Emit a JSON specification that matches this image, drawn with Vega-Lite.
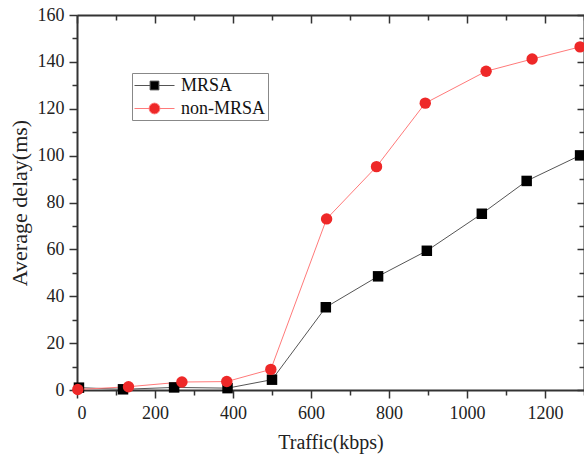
{
  "$schema": "https://vega.github.io/schema/vega-lite/v6.json",
  "width": 507,
  "height": 375,
  "padding": {"left": 77, "top": 15, "right": 0, "bottom": 67},
  "autosize": {"type": "none"},
  "background": "white",
  "config": {
    "view": {"stroke": null},
    "font": "Liberation Serif",
    "axis": {
      "labelFont": "Liberation Serif",
      "labelFontSize": 18,
      "labelColor": "#222",
      "titleFont": "Liberation Serif",
      "titleFontWeight": "normal",
      "titleColor": "#222",
      "domainColor": "#333",
      "domainWidth": 2,
      "tickColor": "#333",
      "tickWidth": 1.5,
      "grid": false
    }
  },
  "data": {
    "values": [
      {"traffic": 5, "delay": 1.0, "series": "MRSA"},
      {"traffic": 118, "delay": 0.3, "series": "MRSA"},
      {"traffic": 249, "delay": 1.1, "series": "MRSA"},
      {"traffic": 386, "delay": 0.8, "series": "MRSA"},
      {"traffic": 500, "delay": 4.4, "series": "MRSA"},
      {"traffic": 638, "delay": 35.3, "series": "MRSA"},
      {"traffic": 772, "delay": 48.5, "series": "MRSA"},
      {"traffic": 897, "delay": 59.4, "series": "MRSA"},
      {"traffic": 1038, "delay": 75.2, "series": "MRSA"},
      {"traffic": 1153, "delay": 89.2, "series": "MRSA"},
      {"traffic": 1290, "delay": 100.1, "series": "MRSA"},
      {"traffic": 2, "delay": 0.2, "series": "non-MRSA"},
      {"traffic": 132, "delay": 1.4, "series": "non-MRSA"},
      {"traffic": 269, "delay": 3.4, "series": "non-MRSA"},
      {"traffic": 384, "delay": 3.6, "series": "non-MRSA"},
      {"traffic": 497, "delay": 8.8, "series": "non-MRSA"},
      {"traffic": 640, "delay": 73.0, "series": "non-MRSA"},
      {"traffic": 768, "delay": 95.3, "series": "non-MRSA"},
      {"traffic": 893, "delay": 122.4, "series": "non-MRSA"},
      {"traffic": 1049, "delay": 136.0, "series": "non-MRSA"},
      {"traffic": 1167, "delay": 141.2, "series": "non-MRSA"},
      {"traffic": 1290, "delay": 146.4, "series": "non-MRSA"}
    ]
  },
  "layer": [
    {
      "mark": {"type": "line", "strokeWidth": 1, "clip": false},
      "encoding": {
        "x": {
          "field": "traffic", "type": "quantitative",
          "scale": {"domain": [0, 1300], "nice": false, "zero": false},
          "axis": {
            "orient": "bottom",
            "title": "Traffic(kbps)",
            "titleFontSize": 20,
            "titlePadding": 10,
            "values": [0, 100, 200, 300, 400, 500, 600, 700, 800, 900, 1000, 1100, 1200, 1300],
            "labelExpr": "datum.value % 200 === 0 ? datum.label : ''",
            "format": "d",
            "labelPadding": 6,
            "tickSize": {"condition": {"test": "datum.value % 200 === 0", "value": 8}, "value": 5}
          }
        },
        "y": {
          "field": "delay", "type": "quantitative",
          "scale": {"domain": [0, 160], "nice": false},
          "axis": {
            "orient": "left",
            "title": "Average delay(ms)",
            "titleFontSize": 22,
            "titlePadding": 6,
            "values": [0, 10, 20, 30, 40, 50, 60, 70, 80, 90, 100, 110, 120, 130, 140, 150, 160],
            "labelExpr": "datum.value % 20 === 0 ? datum.label : ''",
            "labelPadding": 5,
            "tickSize": {"condition": {"test": "datum.value % 20 === 0", "value": 8}, "value": 5}
          }
        },
        "color": {
          "field": "series", "type": "nominal",
          "scale": {"domain": ["MRSA", "non-MRSA"], "range": ["#555555", "#ff7a7a"]},
          "legend": {
            "orient": "none",
            "legendX": 55,
            "legendY": 58,
            "title": null,
            "strokeColor": "#888888",
            "padding": 2,
            "labelFont": "Liberation Serif",
            "labelFontSize": 18,
            "labelColor": "#111",
            "labelOffset": 26,
            "symbolSize": 400,
            "rowPadding": 3,
            "encode": {
              "symbols": {
                "update": {
                  "shape": {"signal": "datum.value === 'MRSA' ? 'M-1,0H0.56M1.44,0H3M0.56,-0.44H1.44V0.44H0.56Z' : 'M-1,0H0.46M1.54,0H3M0.46,0A0.54,0.54 0 1,0 1.54,0A0.54,0.54 0 1,0 0.46,0Z'"},
                  "fill": {"signal": "datum.value === 'MRSA' ? '#000000' : '#ee2828'"},
                  "stroke": {"signal": "datum.value === 'MRSA' ? '#555555' : '#ff7a7a'"},
                  "strokeWidth": {"value": 1},
                  "opacity": {"value": 1},
                  "fillOpacity": {"value": 1}
                }
              }
            }
          }
        }
      }
    },
    {
      "transform": [{"filter": "datum.series === 'MRSA'"}],
      "mark": {"type": "point", "shape": "square", "filled": true, "fill": "#000000", "opacity": 1, "strokeWidth": 0, "size": 110, "clip": false},
      "encoding": {
        "x": {
          "field": "traffic", "type": "quantitative",
          "axis": {
            "orient": "top",
            "title": null,
            "labels": false,
            "values": [0, 100, 200, 300, 400, 500, 600, 700, 800, 900, 1000, 1100, 1200, 1300],
            "tickSize": {"condition": {"test": "datum.value % 200 === 0", "value": -8}, "value": -5}
          }
        },
        "y": {
          "field": "delay", "type": "quantitative",
          "axis": {
            "orient": "right",
            "title": null,
            "labels": false,
            "values": [0, 10, 20, 30, 40, 50, 60, 70, 80, 90, 100, 110, 120, 130, 140, 150, 160],
            "tickSize": {"condition": {"test": "datum.value % 20 === 0", "value": -7}, "value": -5}
          }
        }
      }
    },
    {
      "transform": [{"filter": "datum.series === 'non-MRSA'"}],
      "mark": {"type": "point", "shape": "circle", "filled": true, "fill": "#ee2828", "opacity": 1, "strokeWidth": 0, "size": 130, "clip": false},
      "encoding": {
        "x": {"field": "traffic", "type": "quantitative", "axis": null},
        "y": {"field": "delay", "type": "quantitative", "axis": null}
      }
    }
  ]
}
